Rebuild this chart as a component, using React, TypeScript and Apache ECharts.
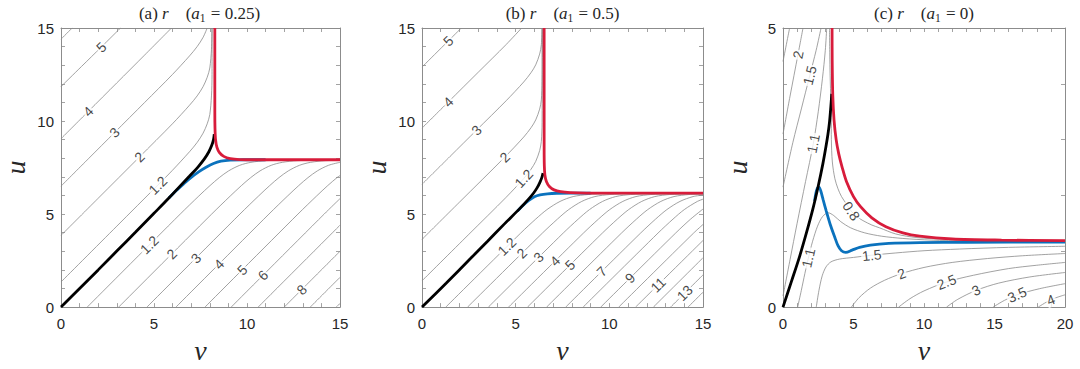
import React, { useEffect, useRef } from 'react';
import * as echarts from 'echarts';

type Pt = [number, number];
type Label = [string, number, number, string];

// ---------------- Panel (a): a1 = 0.25 ----------------
const aBlack: Pt[] = [[0,0],[1,1.0],[2,2.0],[3,3.01],[4,4.02],[5,5.04],[5.8,5.86],[6.4,6.5],[6.9,7.03],[7.34,7.5],[7.7,7.95],[7.95,8.35],[8.1,8.68],[8.2,9.0],[8.24,9.3]];
const aBlue: Pt[] = [[5.8,5.86],[6.2,6.27],[6.6,6.63],[7.0,6.97],[7.4,7.27],[7.8,7.52],[8.2,7.72],[8.6,7.84],[9.1,7.9],[9.8,7.92],[11,7.92]];
const aRed: Pt[] = [[8.27,15],[8.27,10.5],[8.28,9.6],[8.31,9.0],[8.38,8.6],[8.52,8.3],[8.75,8.1],[9.1,7.98],[9.6,7.93],[10.5,7.92],[15,7.92]];

const aUL6: Pt[] = [[0,14.4],[0.6,15]];
const aUL5: Pt[] = [[0,11.85],[1.1,12.93],[2.16,13.97],[3.2,15]];
const aUL4: Pt[] = [[0,9.05],[1.46,10.51],[3,12.05],[4.49,13.54],[5.94,15]];
const aUL3: Pt[] = [[0,6.5],[1.5,8.0],[2.88,9.38],[4.5,11.0],[5.99,12.5],[6.91,13.5],[7.32,14],[7.64,14.5],[7.86,15]];
const aUL2: Pt[] = [[0,3.85],[2,5.85],[4.22,8.07],[5.99,9.85],[6.91,10.85],[7.32,11.35],[7.64,11.85],[7.86,12.35],[8.0,12.85],[8.09,13.85],[8.12,15]];
const aUL12: Pt[] = [[0,1.35],[3,4.35],[5.2,6.55],[5.99,7.35],[6.91,8.35],[7.32,8.85],[7.64,9.35],[7.86,9.85],[8.0,10.35],[8.09,11.35],[8.12,12.5],[8.12,15]];
const aLR12: Pt[] = [[1.41,0],[6.41,5.0],[7.41,5.97],[8.01,6.53],[8.51,6.96],[9.01,7.32],[9.61,7.62],[10.21,7.78],[11.01,7.87],[12.41,7.9],[15,7.9]];
const aLR2: Pt[] = [[3.1,0],[8.1,5.0],[9.1,5.97],[9.7,6.53],[10.2,6.96],[10.7,7.32],[11.3,7.62],[11.9,7.78],[12.7,7.87],[14.1,7.9],[15,7.9]];
const aLR3: Pt[] = [[4.62,0],[9.62,5.0],[10.62,5.97],[11.22,6.53],[11.72,6.96],[12.22,7.32],[12.82,7.62],[13.42,7.78],[14.22,7.87],[15,7.89]];
const aLR4: Pt[] = [[6.18,0],[11.18,5.0],[12.18,5.97],[12.78,6.53],[13.28,6.96],[13.78,7.32],[14.38,7.62],[15,7.78]];
const aLR5: Pt[] = [[7.74,0],[12.74,5.0],[13.74,5.97],[14.34,6.53],[14.84,6.96],[15,7.07]];
const aLR6: Pt[] = [[9.15,0],[14.15,5.0],[15,5.83]];
const aLR7: Pt[] = [[10.6,0],[15,4.4]];
const aLR8: Pt[] = [[12.0,0],[15,3.0]];
const aLR9: Pt[] = [[13.4,0],[15,1.6]];
const aLR10: Pt[] = [[14.8,0],[15,0.2]];
const aContours: Record<string, Pt[]> = { aUL6, aUL5, aUL4, aUL3, aUL2, aUL12, aLR12, aLR2, aLR3, aLR4, aLR5, aLR6, aLR7, aLR8, aLR9, aLR10 };
const aLabels: Label[] = [
  ['5',2.16,13.97,'aUL5'],['4',1.46,10.51,'aUL4'],['3',2.88,9.38,'aUL3'],['2',4.22,8.07,'aUL2'],['1.2',5.2,6.55,'aUL12'],
  ['1.2',4.75,3.34,'aLR12'],['2',5.95,2.85,'aLR2'],['3',7.25,2.63,'aLR3'],['4',8.49,2.31,'aLR4'],['5',9.74,2.0,'aLR5'],['6',10.86,1.71,'aLR6'],['8',12.94,0.94,'aLR8'],
];

// ---------------- Panel (b): a1 = 0.5 ----------------
const bBlack: Pt[] = [[0,0],[1.3,1.3],[2.6,2.62],[3.5,3.54],[4.35,4.42],[5.24,5.32],[5.7,5.82],[5.95,6.12],[6.15,6.42],[6.3,6.72],[6.4,6.97],[6.46,7.2]];
const bBlue: Pt[] = [[5.1,5.17],[5.4,5.47],[5.7,5.73],[6.0,5.93],[6.3,6.03],[6.7,6.09],[7.2,6.12],[8,6.13],[9,6.13]];
const bRed: Pt[] = [[6.52,15],[6.52,8.5],[6.53,7.6],[6.56,7.1],[6.64,6.75],[6.8,6.48],[7.05,6.3],[7.4,6.2],[7.9,6.15],[8.8,6.13],[15,6.13]];

const bUL5: Pt[] = [[0,12.9],[2.1,15]];
const bUL4: Pt[] = [[0,9.62],[1.4,11.02],[3,12.62],[4.49,14.11],[5.32,15]];
const bUL3: Pt[] = [[0,6.6],[1.5,8.1],[2.91,9.51],[4.49,11.09],[5.43,12.1],[5.82,12.6],[6.07,13.02],[6.28,13.6],[6.37,14.1],[6.41,15]];
const bUL2: Pt[] = [[0,3.64],[2,5.64],[4.42,8.06],[5.43,9.14],[5.82,9.64],[6.07,10.06],[6.28,10.64],[6.37,11.14],[6.41,12.14],[6.42,15]];
const bUL12: Pt[] = [[0,1.41],[2.5,3.91],[4.49,5.9],[5.43,6.91],[5.82,7.41],[6.07,7.83],[6.28,8.41],[6.37,8.91],[6.41,9.91],[6.42,15]];
const bLR12: Pt[] = [[1.27,0],[5.27,3.98],[6.07,4.73],[6.67,5.24],[7.37,5.68],[8.07,5.94],[8.87,6.05],[9.87,6.09],[11.27,6.1],[15,6.1]];
const bLR2: Pt[] = [[2.43,0],[6.43,3.98],[7.23,4.73],[7.83,5.24],[8.53,5.68],[9.23,5.94],[10.03,6.05],[11.03,6.09],[12.43,6.1],[15,6.1]];
const bLR3: Pt[] = [[3.54,0],[7.54,3.98],[8.34,4.73],[8.94,5.24],[9.64,5.68],[10.34,5.94],[11.14,6.05],[12.14,6.09],[13.54,6.1],[15,6.1]];
const bLR4: Pt[] = [[4.62,0],[8.62,3.98],[9.42,4.73],[10.02,5.24],[10.72,5.68],[11.42,5.94],[12.22,6.05],[13.22,6.09],[14.62,6.1],[15,6.1]];
const bLR5: Pt[] = [[5.63,0],[9.63,3.98],[10.43,4.73],[11.03,5.24],[11.73,5.68],[12.43,5.94],[13.23,6.05],[14.23,6.09],[15,6.1]];
const bLR6: Pt[] = [[6.65,0],[10.65,3.98],[11.45,4.73],[12.05,5.24],[12.75,5.68],[13.45,5.94],[14.25,6.05],[15,6.08]];
const bLR7: Pt[] = [[7.67,0],[11.67,3.98],[12.47,4.73],[13.07,5.24],[13.77,5.68],[14.47,5.94],[15,6.02]];
const bLR8: Pt[] = [[8.6,0],[12.6,3.98],[13.4,4.73],[14.0,5.24],[14.7,5.68],[15,5.8]];
const bLR9: Pt[] = [[9.54,0],[13.54,3.98],[14.34,4.73],[15,5.27]];
const bLR10: Pt[] = [[10.5,0],[14.5,3.98],[15,4.44]];
const bLR11: Pt[] = [[11.4,0],[15,3.58]];
const bLR12b: Pt[] = [[12.35,0],[15,2.65]];
const bLR13: Pt[] = [[13.27,0],[15,1.73]];
const bLR14: Pt[] = [[14.2,0],[15,0.8]];
const bContours: Record<string, Pt[]> = { bUL5, bUL4, bUL3, bUL2, bUL12, bLR12, bLR2, bLR3, bLR4, bLR5, bLR6, bLR7, bLR8, bLR9, bLR10, bLR11, bLR12b, bLR13, bLR14 };
const bLabels: Label[] = [
  ['5',1.4,14.3,'bUL5'],['4',1.4,11.02,'bUL4'],['3',2.91,9.51,'bUL3'],['2',4.42,8.06,'bUL2'],['1.2',5.43,6.91,'bUL12'],
  ['1.2',4.53,3.26,'bLR12'],['2',5.33,2.9,'bLR2'],['3',6.22,2.68,'bLR3'],['4',7.1,2.48,'bLR4'],['5',7.9,2.27,'bLR5'],
  ['7',9.59,1.92,'bLR7'],['9',11.1,1.56,'bLR9'],['11',12.6,1.2,'bLR11'],['13',14.03,0.76,'bLR13'],
];

// ---------------- Panel (c): a1 = 0 ----------------
const cBlack: Pt[] = [[0,0],[0.6,0.46],[1.18,0.91],[1.65,1.32],[2.12,1.76],[2.5,2.17],[2.83,2.57],[3.05,2.88],[3.19,3.1],[3.3,3.32],[3.38,3.55],[3.46,3.82]];
const cBlue: Pt[] = [[2.24,1.9],[2.33,2.04],[2.44,2.13],[2.55,2.15],[2.68,2.08],[2.85,1.92],[3.07,1.72],[3.35,1.48],[3.66,1.26],[3.9,1.1],[4.15,1.01],[4.45,0.98],[4.9,1.02],[5.43,1.07],[6.2,1.11],[7.5,1.14],[9.7,1.155],[13,1.16],[20,1.165]];
const cRed: Pt[] = [[3.48,5],[3.49,4.4],[3.53,3.8],[3.62,3.35],[3.77,3.0],[3.95,2.75],[4.2,2.5],[4.5,2.25],[5.0,1.98],[5.5,1.8],[6.3,1.6],[7.3,1.44],[8.5,1.33],[9.7,1.27],[12,1.22],[15.5,1.2],[20,1.19]];

const cCorner: Pt[] = [[0,4.4],[0.47,5]];
const cUL2: Pt[] = [[0,3.1],[0.5,3.78],[1.06,4.52],[1.42,5]];
const cUL15: Pt[] = [[0,2.15],[0.7,2.95],[1.3,3.55],[1.9,4.15],[2.35,4.6],[2.7,5]];
const cUL11: Pt[] = [[0,0.2],[0.5,0.85],[1.0,1.5],[1.6,2.25],[2.15,2.93],[2.5,3.5],[2.8,4.1],[3.0,4.6],[3.1,5]];
const c08: Pt[] = [[3.3,5],[3.33,4.3],[3.38,3.8],[3.42,3.4],[3.43,3.0],[3.5,2.6],[3.68,2.3],[3.9,2.12],[4.15,1.98],[4.49,1.85],[4.84,1.72],[5.3,1.61],[5.67,1.55],[6.3,1.47],[6.85,1.42],[8,1.31],[9.5,1.245],[11.5,1.215],[14,1.2],[17,1.192],[20,1.188]];
const c11: Pt[] = [[1.04,0],[1.3,0.3],[1.55,0.6],[1.8,0.88],[2.1,1.18],[2.45,1.45],[2.8,1.62],[3.2,1.69],[3.6,1.64],[4.1,1.53],[4.8,1.42],[5.8,1.33],[7,1.27],[8.5,1.23],[10.5,1.2],[13,1.185],[16,1.175],[20,1.17]];
const c15: Pt[] = [[2.36,0],[2.55,0.3],[2.78,0.56],[3.05,0.72],[3.4,0.81],[4,0.86],[5,0.89],[6.3,0.93],[8,0.97],[10,1.01],[12.5,1.04],[16,1.07],[20,1.09]];
const c2: Pt[] = [[4.85,0],[5.4,0.17],[6.2,0.34],[7.2,0.48],[8.4,0.6],[10,0.71],[12,0.8],[14.5,0.87],[17,0.92],[20,0.96]];
const c25: Pt[] = [[8.2,0],[9,0.15],[10,0.29],[11.6,0.45],[13.5,0.57],[16,0.69],[18,0.75],[20,0.8]];
const c3: Pt[] = [[11.6,0],[12.4,0.14],[13.7,0.3],[15.3,0.43],[17.5,0.54],[20,0.62]];
const c35: Pt[] = [[14.9,0],[15.7,0.12],[16.6,0.22],[18.2,0.33],[20,0.42]];
const c4: Pt[] = [[18.1,0],[18.9,0.12],[19.5,0.18],[20,0.22]];
const cContours: Record<string, Pt[]> = { cCorner, cUL2, cUL15, cUL11, c08, c11, c15, c2, c25, c3, c35, c4 };
const cLabels: Label[] = [
  ['2',1.06,4.52,'cUL2'],['1.5',1.9,4.15,'cUL15'],['1.1',2.15,2.93,'cUL11'],['0.8',4.84,1.72,'c08'],['1.1',1.8,0.88,'c11'],
  ['1.5',6.3,0.93,'c15'],['2',8.4,0.6,'c2'],['2.5',11.6,0.45,'c25'],['3',13.7,0.3,'c3'],['3.5',16.6,0.22,'c35'],['4',19.0,0.13,'c4'],
];

const panelTitles = ['(a) ', '(b) ', '(c) '];
const panelA1 = ['0.25', '0.5', '0'];
const xMaxes = [15, 15, 20];
const yMaxes = [15, 15, 5];

// ---------------- layout / style ----------------
const GRIDS = [
  { left: 59, top: 28, width: 281, height: 281 },
  { left: 422, top: 28, width: 281, height: 281 },
  { left: 783, top: 28, width: 282, height: 281 },
];
const FRAME = '#8c8c8c';
const TEXT = '#262626';
const GRAY = '#8a8a8a';
const RED = '#d81c3b';
const BLUE = '#0b72bd';
const SANS = 'Liberation Sans';
const SERIF = 'Liberation Serif';

const panels = [
  { contours: aContours, labels: aLabels, black: aBlack, blue: aBlue, red: aRed },
  { contours: bContours, labels: bLabels, black: bBlack, blue: bBlue, red: bRed },
  { contours: cContours, labels: cLabels, black: cBlack, blue: cBlue, red: cRed },
];

function mkAxis(dim: 'x' | 'y', gi: number, max: number, main: boolean): any {
  const ax: any = {
    gridIndex: gi, type: 'value', min: 0, max, interval: 1,
    position: dim === 'x' ? (main ? 'bottom' : 'top') : (main ? 'left' : 'right'),
    axisLine: { show: true, onZero: false, lineStyle: { color: FRAME, width: 1 } },
    axisTick: { show: true, inside: true, length: 4, lineStyle: { color: FRAME, width: 0.8 } },
    axisLabel: main
      ? { show: true, formatter: (v: number) => (v % 5 === 0 ? String(v) : ''), fontSize: 15, color: TEXT, fontFamily: SANS, margin: dim === 'x' ? 9 : 7 }
      : { show: false },
    splitLine: { show: false },
  };
  if (main) {
    ax.name = dim === 'x' ? 'v' : 'u';
    ax.nameLocation = 'middle';
    ax.nameGap = dim === 'x' ? 16 : 32;
    ax.nameRotate = dim === 'x' ? 0 : 90;
    ax.nameTextStyle = { fontFamily: SERIF, fontStyle: 'italic', fontSize: 28, color: TEXT };
  }
  return ax;
}

export default function App() {
  const ref = useRef<HTMLDivElement>(null);
  useEffect(() => {
    const el = ref.current;
    if (!el) return;
    const chart = echarts.init(el, null, { renderer: 'svg' });
    const series: any[] = [];
    const idxByKey: Record<string, number> = {};
    const xAxis: any[] = [];
    const yAxis: any[] = [];
    panels.forEach((p, i) => {
      xAxis.push(mkAxis('x', i, xMaxes[i], true), mkAxis('x', i, xMaxes[i], false));
      yAxis.push(mkAxis('y', i, yMaxes[i], true), mkAxis('y', i, yMaxes[i], false));
      Object.keys(p.contours).forEach((k) => {
        idxByKey[k] = series.length;
        series.push({
          type: 'line', xAxisIndex: 2 * i, yAxisIndex: 2 * i, data: p.contours[k],
          showSymbol: false, symbol: 'none', smooth: 0.3, silent: true, z: 2, clip: true,
          lineStyle: { color: GRAY, width: 0.8 },
        });
      });
    });
    const labelStyle = { show: true, position: 'inside', formatter: '{b}', fontSize: 14, fontFamily: SANS, color: '#161616', backgroundColor: '#fff', padding: [0, 1] };
    const labelSeries = (i: number, angles: number[] | null) => ({
      id: 'lab' + i, type: 'scatter', xAxisIndex: 2 * i, yAxisIndex: 2 * i, symbolSize: 0, silent: true, z: 4,
      label: labelStyle,
      data: panels[i].labels.map((l, j) => ({ name: l[0], value: [l[1], l[2]], label: { ...labelStyle, rotate: angles ? angles[j] : 0 } })),
    });
    panels.forEach((p, i) => {
      series.push(labelSeries(i, null));
      const thick = (data: Pt[], color: string, z: number) => ({
        type: 'line', xAxisIndex: 2 * i, yAxisIndex: 2 * i, data, showSymbol: false, symbol: 'none', smooth: 0.3,
        silent: true, z, clip: true, lineStyle: { color, width: 2.8 },
      });
      series.push(thick(p.blue, BLUE, 5), thick(p.black, '#000', 6), thick(p.red, RED, 7));
    });
    const centers = GRIDS.map((g) => g.left + g.width / 2);
    const graphic = centers.map((cx, i) => ({
      type: 'text', x: cx, y: 4,
      style: {
        text: `{n|${panelTitles[i]}}{i|r}{n|    (}{i|a}{s|1}{n| = ${panelA1[i]})}`,
        align: 'center', verticalAlign: 'top',
        rich: {
          n: { fontFamily: SERIF, fontSize: 17, fill: TEXT, lineHeight: 19 },
          i: { fontFamily: SERIF, fontStyle: 'italic', fontSize: 17, fill: TEXT, lineHeight: 19 },
          s: { fontFamily: SERIF, fontSize: 11.5, fill: TEXT, lineHeight: 19, padding: [9, 1, 0, 0] },
        },
      },
    }));
    chart.setOption({
      animation: false,
      backgroundColor: '#fff',
      grid: GRIDS.map((g) => ({ ...g, containLabel: false })),
      xAxis, yAxis, series, graphic,
    });
    // rotate each contour label along its line, measured in pixels
    const upd = panels.map((p, i) => {
      const angles = p.labels.map((l) => {
        const si = idxByKey[l[3]];
        const pts = p.contours[l[3]].map((q) => chart.convertToPixel({ seriesIndex: si }, q) as number[]);
        const P = chart.convertToPixel({ seriesIndex: si }, [l[1], l[2]]) as number[];
        let best = Infinity; let ang = 0;
        for (let k = 0; k < pts.length - 1; k++) {
          const a = pts[k], b = pts[k + 1];
          const dx = b[0] - a[0], dy = b[1] - a[1];
          const L2 = dx * dx + dy * dy || 1;
          let t = ((P[0] - a[0]) * dx + (P[1] - a[1]) * dy) / L2;
          t = Math.max(0, Math.min(1, t));
          const ex = a[0] + t * dx - P[0], ey = a[1] + t * dy - P[1];
          const d = ex * ex + ey * ey;
          if (d < best) { best = d; ang = (Math.atan2(-dy, dx) * 180) / Math.PI; }
        }
        if (ang > 90) ang -= 180;
        if (ang <= -90) ang += 180;
        return ang;
      });
      return labelSeries(i, angles);
    });
    chart.setOption({ series: upd });
    return () => chart.dispose();
  }, []);
  return <div ref={ref} style={{ position: 'fixed', left: 0, top: 0, width: 1080, height: 369, background: '#fff' }} />;
}
